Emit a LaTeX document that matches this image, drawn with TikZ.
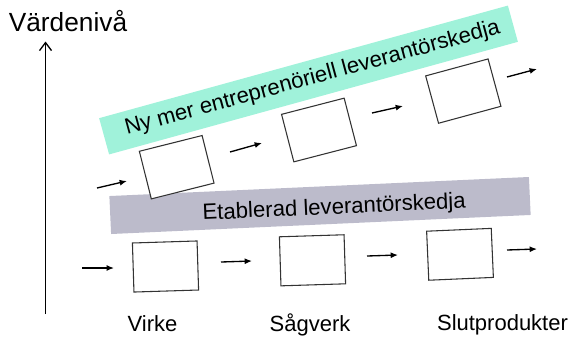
\documentclass[tikz,border=0pt]{standalone}
\usepackage{fontspec}
\setmainfont{Liberation Sans}
\usetikzlibrary{arrows.meta}
\definecolor{newband}{HTML}{A0F2DA}
\definecolor{oldband}{HTML}{BCBBCB}
\definecolor{boxline}{HTML}{333333}
\begin{document}
\begin{tikzpicture}[x=0.75pt,y=-0.75pt,
  band/.style={rectangle,inner sep=0pt,minimum width=318pt,minimum height=28.2pt},
  stage/.style={rectangle,draw=boxline,line width=0.8pt,fill=white,inner sep=0pt,
    minimum width=48.5pt,minimum height=36.8pt},
  flow/.style={line width=1pt,-{Latex[length=5.5pt,width=4.5pt]}},
  bandtext/.style={anchor=base,inner sep=0pt,font=\fontsize{16.6}{19}\selectfont},
  label/.style={anchor=base,inner sep=0pt,font=\fontsize{16.5}{19}\selectfont}]
\useasboundingbox (0,0) rectangle (573,339);

% value axis
\node[anchor=base,inner sep=0pt,font=\fontsize{19.7}{23}\selectfont] (title) at (68,31) {Värdenivå};
\coordinate (axisbot) at (45.5,314);
\coordinate (axistop) at (45.5,41.5);
\draw[line width=1pt,-{Straight Barb[length=6pt,width=9pt]}] (axisbot) -- (axistop);

% the two supply chains
\node[band,fill=newband,rotate=15.4] (newchain) at (308.5,80) {};
\node[bandtext,rotate=15.2] (newtext) at (314,84) {Ny mer entreprenöriell leverantörskedja};
\node[band,fill=oldband,minimum width=315pt,minimum height=28.5pt,rotate=2.6] (oldchain) at (320,205.5) {};
\node[bandtext,rotate=2.6] (oldtext) at (334.5,214) {Etablerad leverantörskedja};

% established chain: stages and flow
\node[stage,rotate=1.8] (b1) at (165.5,266.5) {};
\node[stage,rotate=1.8] (b2) at (312.5,260.3) {};
\node[stage,rotate=2.5] (b3) at (460,254.3) {};
\coordinate (l1s) at (82,268);  \coordinate (l1e) at (114,268);
\coordinate (l2s) at (221,262); \coordinate (l2e) at (252,261);
\coordinate (l3s) at (367,256); \coordinate (l3e) at (398,255);
\coordinate (l4s) at (507,250); \coordinate (l4e) at (537,249);
\draw[flow] (l1s) -- (l1e);
\draw[flow] (l2s) -- (l2e);
\draw[flow] (l3s) -- (l3e);
\draw[flow] (l4s) -- (l4e);

% entrepreneurial chain: stages and flow
\node[stage,rotate=14.1] (u1) at (176.7,167.2) {};
\node[stage,rotate=14.5] (u2) at (319,130) {};
\node[stage,rotate=15.2] (u3) at (463.3,91.1) {};
\coordinate (h1s) at (97,188);  \coordinate (h1e) at (127,181);
\coordinate (h2s) at (230,152); \coordinate (h2e) at (262,143);
\coordinate (h3s) at (372,113); \coordinate (h3e) at (403,106);
\coordinate (h4s) at (507,77);  \coordinate (h4e) at (537,69);
\draw[flow] (h1s) -- (h1e);
\draw[flow] (h2s) -- (h2e);
\draw[flow] (h3s) -- (h3e);
\draw[flow] (h4s) -- (h4e);

% stage names
\node[label] (virke) at (152.5,331) {Virke};
\node[label] (sagverk) at (310,331) {Sågverk};
\node[label] (slut) at (502.5,330) {Slutprodukter};
\end{tikzpicture}
\end{document}
